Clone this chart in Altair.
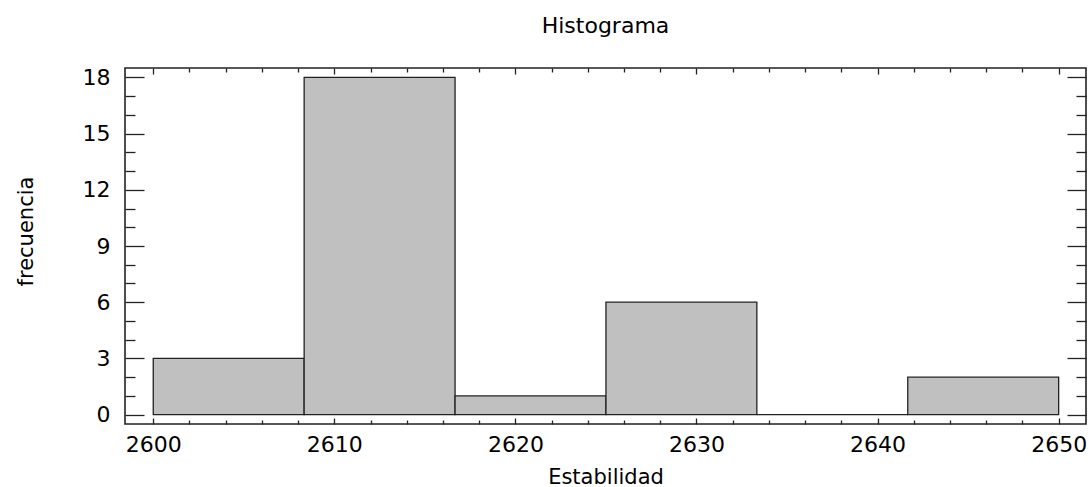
import altair as alt
import pandas as pd

# Histogram bins of "Estabilidad" and their frequencies
bin_start = [2600.0, 2608.333, 2616.667, 2625.0, 2633.333, 2641.667]
bin_end = [2608.333, 2616.667, 2625.0, 2633.333, 2641.667, 2650.0]
frecuencia = [3, 18, 1, 6, 0, 2]

# Axis tick positions
x_major = [2600, 2610, 2620, 2630, 2640, 2650]
x_minor = [2602, 2604, 2606, 2608, 2612, 2614, 2616, 2618, 2622, 2624, 2626, 2628,
           2632, 2634, 2636, 2638, 2642, 2644, 2646, 2648]
y_major = [0, 3, 6, 9, 12, 15, 18]
y_minor = [1, 2, 4, 5, 7, 8, 10, 11, 13, 14, 16, 17]

df = pd.DataFrame({"start": bin_start, "end": bin_end, "count": frecuencia})

FONT = "DejaVu Sans"
W, H = 961, 356
TICK = "#222222"

xscale = alt.Scale(domain=[2598.44, 2651.51], nice=False, zero=False, padding=0)
yscale = alt.Scale(domain=[-0.5, 18.5], nice=False, zero=False, padding=0)

bars = alt.Chart(df).mark_bar(
    fill="#c0c0c0", stroke="#222222", strokeWidth=1.3, orient="vertical"
).encode(
    x=alt.X("start:Q", scale=xscale,
            axis=alt.Axis(values=x_major, format="d", orient="bottom", ticks=False,
                          tickSize=0, domain=False, grid=False, labelPadding=10,
                          title="Estabilidad", titleBaseline="alphabetic", titleY=59,
                          titlePadding=0)),
    x2="end:Q",
    y=alt.Y("count:Q", scale=yscale,
            axis=alt.Axis(values=y_major, orient="left", ticks=False, tickSize=0,
                          domain=False, grid=False, labelPadding=15,
                          title="frecuencia", titleBaseline="alphabetic",
                          titleX=-93, titleY=163, titleAngle=270, titleAlign="center")),
)


def tick_layer(xv, xlen, x_orient, yv, ylen, y_orient):
    """Invisible layer whose only job is to carry a set of inward-pointing ticks."""
    return alt.Chart(df).mark_point(opacity=0).encode(
        x=alt.X("start:Q", scale=xscale,
                axis=alt.Axis(values=xv, orient=x_orient, offset=-H, labels=False,
                              domain=False, grid=False, ticks=True, tickSize=xlen,
                              tickColor=TICK, tickWidth=1.3, title=None)),
        y=alt.Y("count:Q", scale=yscale,
                axis=alt.Axis(values=yv, orient=y_orient, offset=-W, labels=False,
                              domain=False, grid=False, ticks=True, tickSize=ylen,
                              tickColor=TICK, tickWidth=1.3, title=None)),
    )


# bottom and left edges: ticks point into the plot
t_bl_major = tick_layer(x_major, 6, "top", y_major, 19, "right")
t_bl_minor = tick_layer(x_minor, 4, "top", y_minor, 10, "right")
# top and right edges
t_tr_major = tick_layer(x_major, 6, "bottom", y_major, 19, "left")
t_tr_minor = tick_layer(x_minor, 4, "bottom", y_minor, 10, "left")

chart = alt.layer(
    bars, t_bl_major, t_bl_minor, t_tr_major, t_tr_minor
).resolve_axis(
    x="independent", y="independent"
).properties(
    width=W,
    height=H,
    title=alt.TitleParams("Histograma", font=FONT, fontSize=22, fontWeight="normal",
                          color="#000000", anchor="middle", frame="group",
                          baseline="alphabetic", offset=11),
    autosize=alt.AutoSizeParams(type="none"),
    padding={"left": 125, "top": 68, "right": 3, "bottom": 63},
).configure(
    background="white",
).configure_view(
    stroke="#222222", strokeWidth=1.6,
).configure_axis(
    labelFont=FONT, labelFontSize=22, labelColor="#000000",
    titleFont=FONT, titleFontSize=21, titleFontWeight="normal", titleColor="#000000",
)

chart.save("out.html", embed_options={"renderer": "svg", "actions": False})
